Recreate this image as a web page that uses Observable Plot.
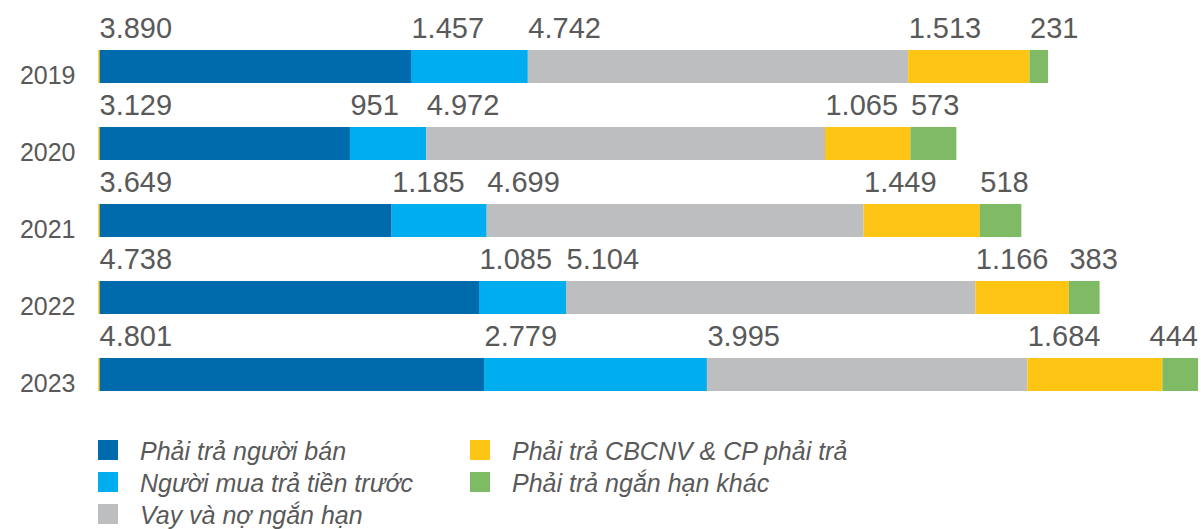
<!DOCTYPE html>
<html>
<head>
<meta charset="utf-8">
<script src="https://cdn.jsdelivr.net/npm/d3@7"></script>
<script src="https://cdn.jsdelivr.net/npm/@observablehq/plot@0.6"></script>
<style>
  html, body { margin: 0; padding: 0; background: #fff; }
  body { width: 1201px; height: 529px; overflow: hidden; font-family: "Liberation Sans", Arial, sans-serif; color: #595959; }
  #chart svg { display: block; }
  #legend { display: grid; grid-template-columns: 372px auto; grid-template-rows: repeat(3, 32px); grid-auto-flow: column; padding-left: 98px; margin-top: 14px; }
  .item { display: flex; align-items: center; height: 32px; }
  .sw { width: 20px; height: 20px; margin-right: 22px; flex: none; }
  .lb { font-style: italic; font-size: 25px; line-height: 32px; white-space: nowrap; position: relative; top: 1px; }
</style>
</head>
<body>
<div id="chart"></div>
<div id="legend"></div>
<script>
const years = ["2019", "2020", "2021", "2022", "2023"];
const seriesNames = [
  "Phải trả người bán",
  "Người mua trả tiền trước",
  "Vay và nợ ngắn hạn",
  "Phải trả CBCNV & CP phải trả",
  "Phải trả ngắn hạn khác"
];
const phaiTraNguoiBan = [3890, 3129, 3649, 4738, 4801];
const nguoiMuaTraTruoc = [1457, 951, 1185, 1085, 2779];
const vayNoNganHan = [4742, 4972, 4699, 5104, 3995];
const phaiTraCBCNV = [1513, 1065, 1449, 1166, 1684];
const phaiTraKhac = [231, 573, 518, 383, 444];
const colors = ["#006BAC", "#00AEEF", "#BCBEC0", "#FFC514", "#7FBA65"];

const seriesValues = [phaiTraNguoiBan, nguoiMuaTraTruoc, vayNoNganHan, phaiTraCBCNV, phaiTraKhac];
const data = [];
years.forEach((y, i) => {
  seriesNames.forEach((s, j) => data.push({year: y, series: s, value: seriesValues[j][i]}));
});

const fmt = d3.formatLocale({decimal: ",", thousands: ".", grouping: [3], currency: ["", ""]}).format(",");

const chart = Plot.plot({
  width: 1201,
  height: 420,
  marginLeft: 99,
  marginRight: 3,
  marginTop: 28,
  marginBottom: 7,
  style: {fontFamily: "'Liberation Sans', Arial, sans-serif", color: "#595959", background: "#fff"},
  x: {axis: null},
  y: {domain: years, paddingInner: 0.5714, paddingOuter: 0.2857, axis: null, label: null},
  color: {domain: seriesNames, range: colors},
  marks: [
    Plot.barX(data, {x: "value", y: "year", fill: "series", z: "series"}),
    Plot.tickX(years, {x: () => 0, y: d => d, stroke: "#FFC514", strokeWidth: 1.5, dx: -0.5}),
    Plot.text(data, Plot.stackX1({
      x: "value", y: "year", z: "series",
      text: d => fmt(d.value),
      textAnchor: "start", lineAnchor: "bottom",
      dy: -29, fontSize: 29, fill: "#595959",
      className: "vlabels"
    })),
    Plot.axisY({tickSize: 0, tickPadding: 24, fontSize: 25, dy: 8.5, fill: "#595959", label: null})
  ]
});
document.getElementById("chart").appendChild(chart);

// keep value labels inside the picture
chart.querySelectorAll(".vlabels text").forEach(el => {
  const b = el.getBBox();
  const m = el.getCTM();
  const right = (m ? m.e : 0) + b.x + b.width;
  const over = right - 1198;
  if (over > 0) {
    el.setAttribute("transform", (el.getAttribute("transform") || "") + ` translate(${-over},0)`);
  }
});

const legend = document.getElementById("legend");
seriesNames.forEach((s, i) => {
  const it = document.createElement("div");
  it.className = "item";
  it.innerHTML = `<span class="sw" style="background:${colors[i]}"></span><span class="lb"></span>`;
  it.querySelector(".lb").textContent = s;
  legend.appendChild(it);
});
</script>
</body>
</html>
